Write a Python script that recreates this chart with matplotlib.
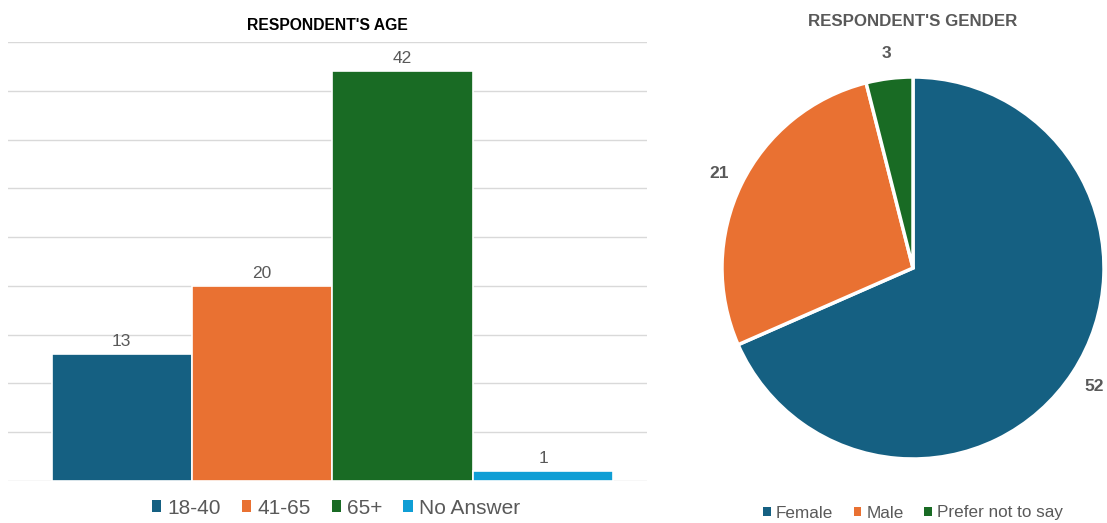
import matplotlib
matplotlib.use("Agg")
import matplotlib.pyplot as plt
from matplotlib.patches import Patch

plt.rcParams["font.family"] = ["Liberation Sans", "DejaVu Sans"]

# --- données ---
age_groups = ["18-40", "41-65", "65+", "No Answer"]
age_counts = [13, 20, 42, 1]
age_colors = ["#156082", "#E97132", "#196B24", "#0F9ED5"]

genders = ["Female", "Male", "Prefer not to say"]
gender_counts = [52, 21, 3]
gender_colors = ["#156082", "#E97132", "#196B24"]

TEXT_GREY = "#595959"
W, H = 1107, 523

fig = plt.figure(figsize=(W / 100, H / 100), dpi=100)
fig.patch.set_facecolor("white")

# --- barres : âge ---
ax = fig.add_axes([8 / W, (H - 481) / H, 639 / W, 439 / H])
xs = list(range(len(age_groups)))
bars = ax.bar(xs, age_counts, width=1.0, color=age_colors,
              edgecolor="white", linewidth=1.2, zorder=3)
for b, v in zip(bars, age_counts):
    ax.text(b.get_x() + b.get_width() / 2, v + 0.5, str(v),
            ha="center", va="bottom", fontsize=12.5, color=TEXT_GREY)
ax.set_ylim(0, 45)
ax.set_xlim(-0.81, 3.74)
ax.set_yticks(range(0, 46, 5))
ax.yaxis.grid(True, color="#d9d9d9", linewidth=1, zorder=0)
ax.tick_params(left=False, bottom=False, labelleft=False, labelbottom=False)
for s in ax.spines.values():
    s.set_visible(False)
ax.set_title("RESPONDENT'S AGE", fontsize=11.3, fontweight="bold",
             color="black", pad=9)
handles = [Patch(facecolor=c, edgecolor="none") for c in age_colors]
fig.legend(handles, age_groups, loc="center", bbox_to_anchor=(336 / W, 1 - 508 / H),
           ncol=4, frameon=False, fontsize=15, labelcolor=TEXT_GREY,
           handlelength=0.45, handleheight=0.45, handletextpad=0.3,
           columnspacing=1.0)

# --- camembert : genre ---
cx, cy, r = 913, 268, 191
half = 200
pax = fig.add_axes([(cx - half) / W, (H - cy - half) / H, 2 * half / W, 2 * half / H])
lim = half / r
wedges, texts = pax.pie(gender_counts, labels=[str(v) for v in gender_counts],
                        colors=gender_colors, startangle=90, counterclock=False,
                        labeldistance=1.13,
                        wedgeprops=dict(edgecolor="white", linewidth=2.5),
                        textprops=dict(fontsize=12.5, fontweight="bold", color=TEXT_GREY))
for t in texts:
    t.set_ha("center")
    t.set_va("center")
pax.set_xlim(-lim, lim)
pax.set_ylim(-lim, lim)
pax.set_aspect("equal")
fig.text(cx / W, 1 - 21 / H, "RESPONDENT'S GENDER", ha="center", va="center",
         fontsize=12.2, fontweight="bold", color=TEXT_GREY)
gh = [Patch(facecolor=c, edgecolor="none") for c in gender_colors]
fig.legend(gh, genders, loc="center", bbox_to_anchor=(913 / W, 1 - 513 / H),
           ncol=3, frameon=False, fontsize=12.3, labelcolor=TEXT_GREY,
           handlelength=0.45, handleheight=0.45, handletextpad=0.3,
           columnspacing=1.2)

fig.savefig("out.png", dpi=100)
